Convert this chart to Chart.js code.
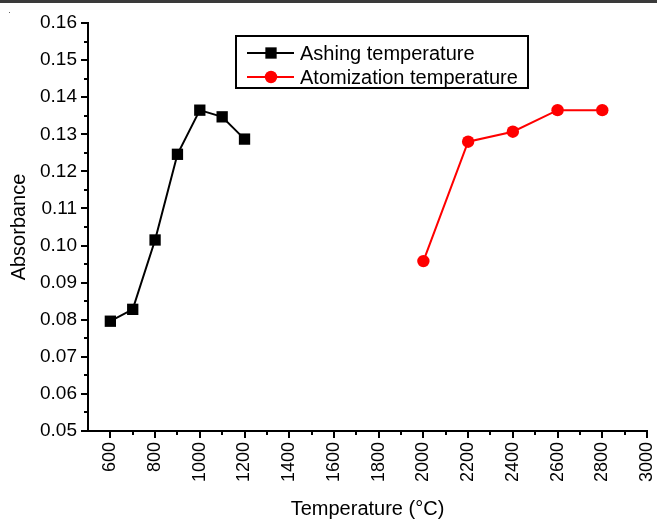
<!DOCTYPE html>
<html>
<head>
<meta charset="utf-8">
<script src="https://cdn.jsdelivr.net/npm/chart.js@4.4.0/dist/chart.umd.min.js"></script>
<style>
  html, body { margin: 0; padding: 0; background: #fff; }
  #wrap { width: 657px; height: 519px; }
</style>
</head>
<body>
<div id="wrap"><canvas id="c" width="657" height="519"></canvas></div>
<script>
// ---- data ----
const ashingTemps = [600, 700, 800, 900, 1000, 1100, 1200];
const ashingAbs   = [0.0796, 0.0828, 0.1015, 0.1246, 0.1365, 0.1347, 0.1287];
const atomTemps   = [2000, 2200, 2400, 2600, 2800];
const atomAbs     = [0.0958, 0.1280, 0.1307, 0.1365, 0.1365];
const xTickLabels = [600, 800, 1000, 1200, 1400, 1600, 1800, 2000, 2200, 2400, 2600, 2800, 3000];
const xMinorTicks = [700, 900, 1100, 1300, 1500, 1700, 1900, 2100, 2300, 2500, 2700, 2900];
const yTickLabels = [0.05, 0.06, 0.07, 0.08, 0.09, 0.10, 0.11, 0.12, 0.13, 0.14, 0.15, 0.16];
const yMinorTicks = [0.055, 0.065, 0.075, 0.085, 0.095, 0.105, 0.115, 0.125, 0.135, 0.145, 0.155];
const seriesNames = ['Ashing temperature', 'Atomization temperature'];
const xTitle = 'Temperature (°C)';
const yTitle = 'Absorbance';

const FONT = '"Liberation Sans", Arial, sans-serif';

const toPts = (xs, ys) => xs.map((x, i) => ({ x: x, y: ys[i] }));

const tickPlugin = {
  id: 'axisTicks',
  afterDraw(chart) {
    const ctx = chart.ctx;
    const xs = chart.scales.x, ys = chart.scales.y;
    const area = chart.chartArea;
    ctx.save();
    ctx.strokeStyle = '#000';
    ctx.lineWidth = 2;
    ctx.beginPath();
    xTickLabels.forEach(v => { const p = Math.round(xs.getPixelForValue(v)); ctx.moveTo(p, area.bottom); ctx.lineTo(p, area.bottom + 7); });
    xMinorTicks.forEach(v => { const p = Math.round(xs.getPixelForValue(v)); ctx.moveTo(p, area.bottom); ctx.lineTo(p, area.bottom + 4); });
    yTickLabels.forEach(v => { const p = Math.round(ys.getPixelForValue(v)); ctx.moveTo(area.left - 7, p); ctx.lineTo(area.left, p); });
    yMinorTicks.forEach(v => { const p = Math.round(ys.getPixelForValue(v)); ctx.moveTo(area.left - 4, p); ctx.lineTo(area.left, p); });
    ctx.stroke();
    ctx.restore();
  }
};

const legendPlugin = {
  id: 'boxLegend',
  afterDraw(chart) {
    const ctx = chart.ctx;
    ctx.save();
    ctx.lineWidth = 2;
    ctx.strokeStyle = '#000';
    ctx.strokeRect(236, 36, 292, 52);
    const rows = [53, 77];
    chart.data.datasets.forEach((ds, i) => {
      const y = rows[i];
      ctx.strokeStyle = ds.borderColor;
      ctx.lineWidth = 2;
      ctx.beginPath(); ctx.moveTo(247, y); ctx.lineTo(294, y); ctx.stroke();
      ctx.fillStyle = ds.pointBackgroundColor;
      ctx.beginPath();
      if (ds.pointStyle === 'rect') {
        const s = Math.SQRT1_2 * ds.pointRadius;
        ctx.rect(271 - s, y - s, 2 * s, 2 * s);
      } else {
        ctx.arc(271, y, ds.pointRadius, 0, Math.PI * 2);
      }
      ctx.fill();
      ctx.fillStyle = '#000';
      ctx.font = '20px ' + FONT;
      ctx.textBaseline = 'middle';
      ctx.textAlign = 'left';
      ctx.fillText(ds.label, 300, y + 1);
    });
    ctx.restore();
  }
};

const framePlugin = {
  id: 'frame',
  beforeDraw(chart) {
    const ctx = chart.ctx;
    ctx.save();
    ctx.fillStyle = '#fff';
    ctx.fillRect(0, 0, chart.width, chart.height);
    ctx.fillStyle = '#3a3a3a';
    ctx.fillRect(0, 0, chart.width, 3);
    ctx.fillStyle = '#666';
    ctx.fillRect(9, 12, 1, 1);
    ctx.restore();
  }
};

new Chart(document.getElementById('c'), {
  type: 'scatter',
  data: {
    datasets: [
      {
        label: seriesNames[0],
        data: toPts(ashingTemps, ashingAbs),
        showLine: true,
        borderColor: '#000000',
        backgroundColor: '#000000',
        pointBackgroundColor: '#000000',
        pointBorderColor: '#000000',
        borderWidth: 2,
        pointStyle: 'rect',
        pointRadius: 8,
        pointBorderWidth: 0,
        pointHoverRadius: 8
      },
      {
        label: seriesNames[1],
        data: toPts(atomTemps, atomAbs),
        showLine: true,
        borderColor: '#ff0000',
        backgroundColor: '#ff0000',
        pointBackgroundColor: '#ff0000',
        pointBorderColor: '#ff0000',
        borderWidth: 2,
        pointStyle: 'circle',
        pointRadius: 6.2,
        pointBorderWidth: 0,
        pointHoverRadius: 6.2
      }
    ]
  },
  options: {
    responsive: false,
    animation: false,
    devicePixelRatio: 1,
    layout: { padding: { top: 23, right: 10, left: 0, bottom: 0 } },
    plugins: { legend: { display: false }, tooltip: { enabled: false } },
    scales: {
      x: {
        type: 'linear',
        min: 500, max: 3000,
        afterBuildTicks: s => { s.ticks = xTickLabels.map(v => ({ value: v })); },
        afterFit: s => { s.height = 88; s.paddingLeft = 0; s.paddingRight = 0; },
        grid: { display: false, drawTicks: false },
        border: { display: true, color: '#000', width: 2 },
        ticks: {
          autoSkip: false,
          minRotation: 90, maxRotation: 90,
          padding: 11,
          color: '#000',
          font: { family: FONT, size: 18 },
          callback: v => String(v)
        },
        title: {
          display: true, text: xTitle, color: '#000',
          font: { family: FONT, size: 20, lineHeight: 1 },
          padding: { top: 0, bottom: 0 }
        }
      },
      y: {
        type: 'linear',
        min: 0.05, max: 0.16,
        afterBuildTicks: s => { s.ticks = yTickLabels.map(v => ({ value: v })); },
        afterFit: s => { s.width = 88; s.paddingTop = 0; s.paddingBottom = 0; },
        grid: { display: false, drawTicks: false },
        border: { display: true, color: '#000', width: 2 },
        ticks: {
          autoSkip: false,
          padding: 11,
          color: '#000',
          font: { family: FONT, size: 19 },
          callback: v => v.toFixed(2)
        },
        title: {
          display: true, text: yTitle, color: '#000',
          font: { family: FONT, size: 20, lineHeight: 1 },
          padding: { top: 9, bottom: 0 }
        }
      }
    }
  },
  plugins: [framePlugin, tickPlugin, legendPlugin]
});
</script>
</body>
</html>
